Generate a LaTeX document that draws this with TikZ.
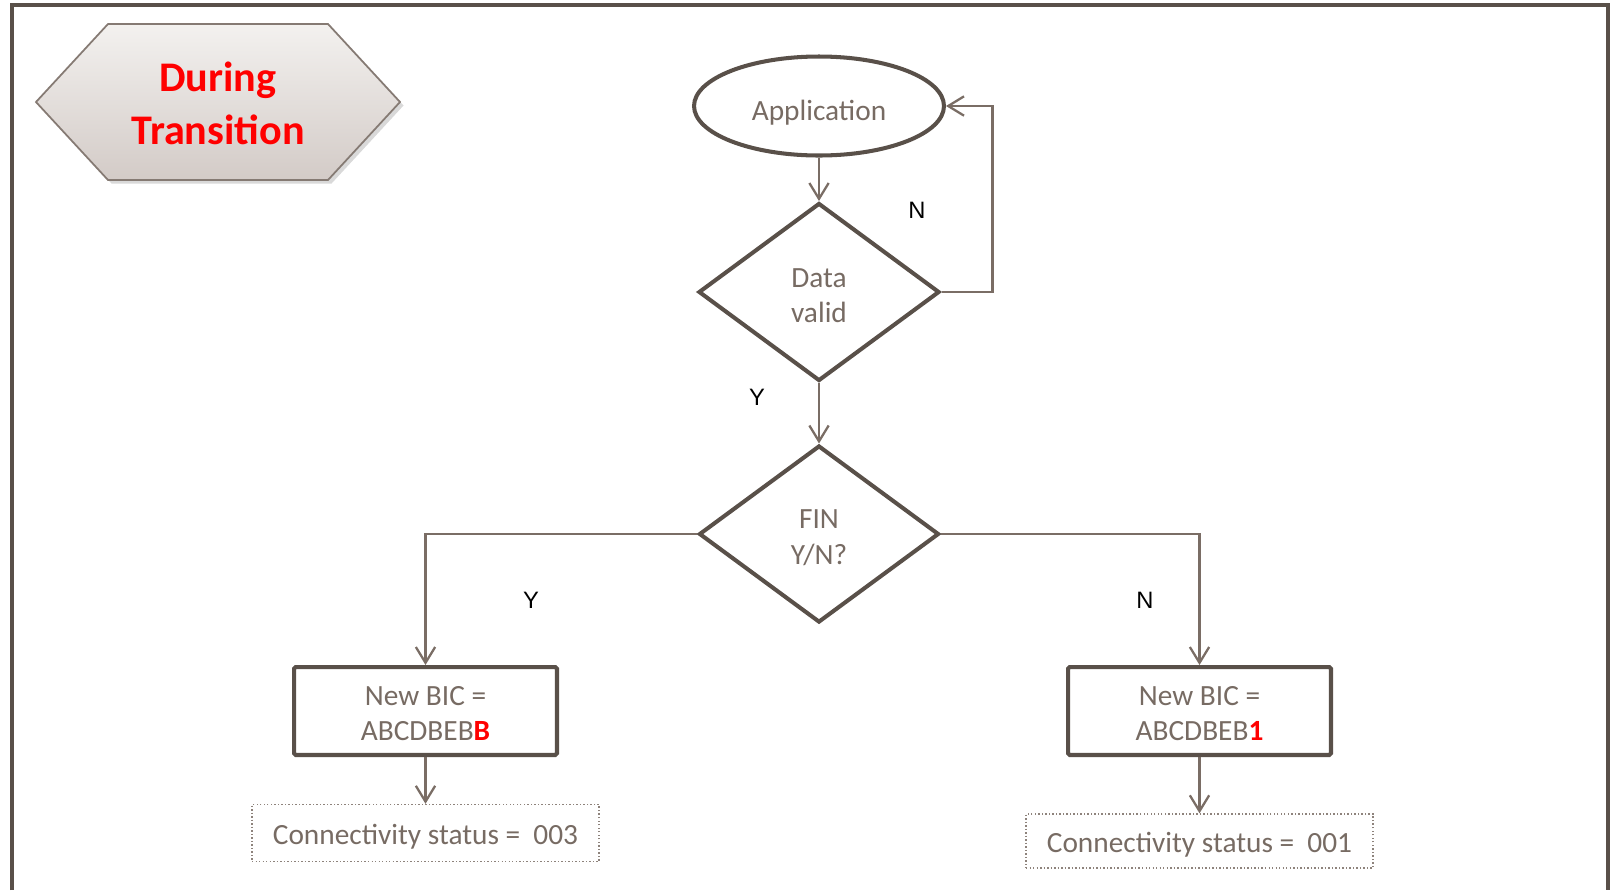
\documentclass[tikz,border=0pt]{standalone}
\usepackage{fontspec}
\setmainfont{Carlito}
\newfontfamily\yesnofont{Liberation Sans}
\usepackage{xcolor}
\usetikzlibrary{arrows.meta,shapes.geometric,shadows}
\definecolor{framecol}{HTML}{595049}
\definecolor{ink}{HTML}{776B63}
\definecolor{wirecol}{HTML}{7A6D65}
\definecolor{hexlight}{HTML}{F3F1EF}
\definecolor{hexdark}{HTML}{D3CBC7}
\definecolor{hexline}{HTML}{857A73}
\newcommand{\dropline}[1]{\rule{0pt}{#1}}

\begin{document}
\begin{tikzpicture}[x=0.02cm,y=-0.02cm,font=\fontsize{16.7}{20}\selectfont,
  shapeline/.style={draw=framecol,line width=2.3pt,text=ink,inner sep=0pt,align=center},
  textdrop/.style={execute at begin node={\dropline{#1}}},
  wire/.style={draw=wirecol,line width=1.3pt,-{Straight Barb[length=9pt,width=11pt]}},
  yn/.style={font=\yesnofont\fontsize{13.5}{15}\selectfont,text=black},
  status/.style={draw=wirecol!85,line width=0.8pt,dash pattern=on 0.8pt off 1.2pt,text=ink,minimum width=6.94cm,textdrop=15.7pt}]
  \useasboundingbox (0,0) rectangle (1615,890);
  \draw[framecol,line width=2.5pt] (12,890) -- (12,5) -- (1608,5) -- (1608,890);
  \filldraw[drop shadow={opacity=0.3,shadow xshift=2pt,shadow yshift=-2pt},top color=hexlight,bottom color=hexdark,draw=hexline,line width=1pt]
    (36,102) -- (108,24) -- (328,24) -- (400,102) -- (328,180) -- (108,180) -- cycle;
  \node[text=red,font=\fontsize{24}{30}\selectfont\bfseries,align=center] (tag) at (218,103) {During\\Transition};
  \node[shapeline,ellipse,minimum width=5cm,minimum height=1.98cm,textdrop=19pt] (app) at (819,106) {Application};
  \node[shapeline,diamond,minimum width=4.82cm,minimum height=3.56cm] (valid) at (819,292) {\dropline{15pt}Data\\valid};
  \node[shapeline,diamond,minimum width=4.8cm,minimum height=3.54cm] (fin) at (819,534) {\dropline{15pt}FIN\\Y/N?};
  \node[shapeline,rectangle,rounded corners=1pt,minimum width=5.26cm,minimum height=1.76cm] (bicB) at (425.5,711) {\dropline{13.8pt}New BIC =\\ABCDBEB{\color{red}\bfseries B}};
  \node[shapeline,rectangle,rounded corners=1pt,minimum width=5.26cm,minimum height=1.76cm] (bic1) at (1199.5,711) {\dropline{13.8pt}New BIC =\\ABCDBEB{\color{red}\bfseries 1}};
  \node[status,minimum height=1.14cm] (statB) at (425.5,833) {Connectivity status =\ \ 003};
  \node[status,minimum height=1.08cm] (stat1) at (1199.5,841) {Connectivity status =\ \ 001};
  \draw[wire] (app) -- (valid);
  \draw[wire] (valid.east) -- ++(51,0) |- (app.east);
  \draw[wire] (valid) -- (fin);
  \draw[wire] (fin.west) -| (bicB);
  \draw[wire] (fin.east) -| (bic1);
  \draw[wire] (bicB) -- (statB);
  \draw[wire] (bic1) -- (stat1);
  \node[yn] (nloop) at (917,210) {N};
  \node[yn] (yvalid) at (757,397) {Y};
  \node[yn] (yfin) at (531,600) {Y};
  \node[yn] (nfin) at (1145,600) {N};
\end{tikzpicture}
\end{document}
